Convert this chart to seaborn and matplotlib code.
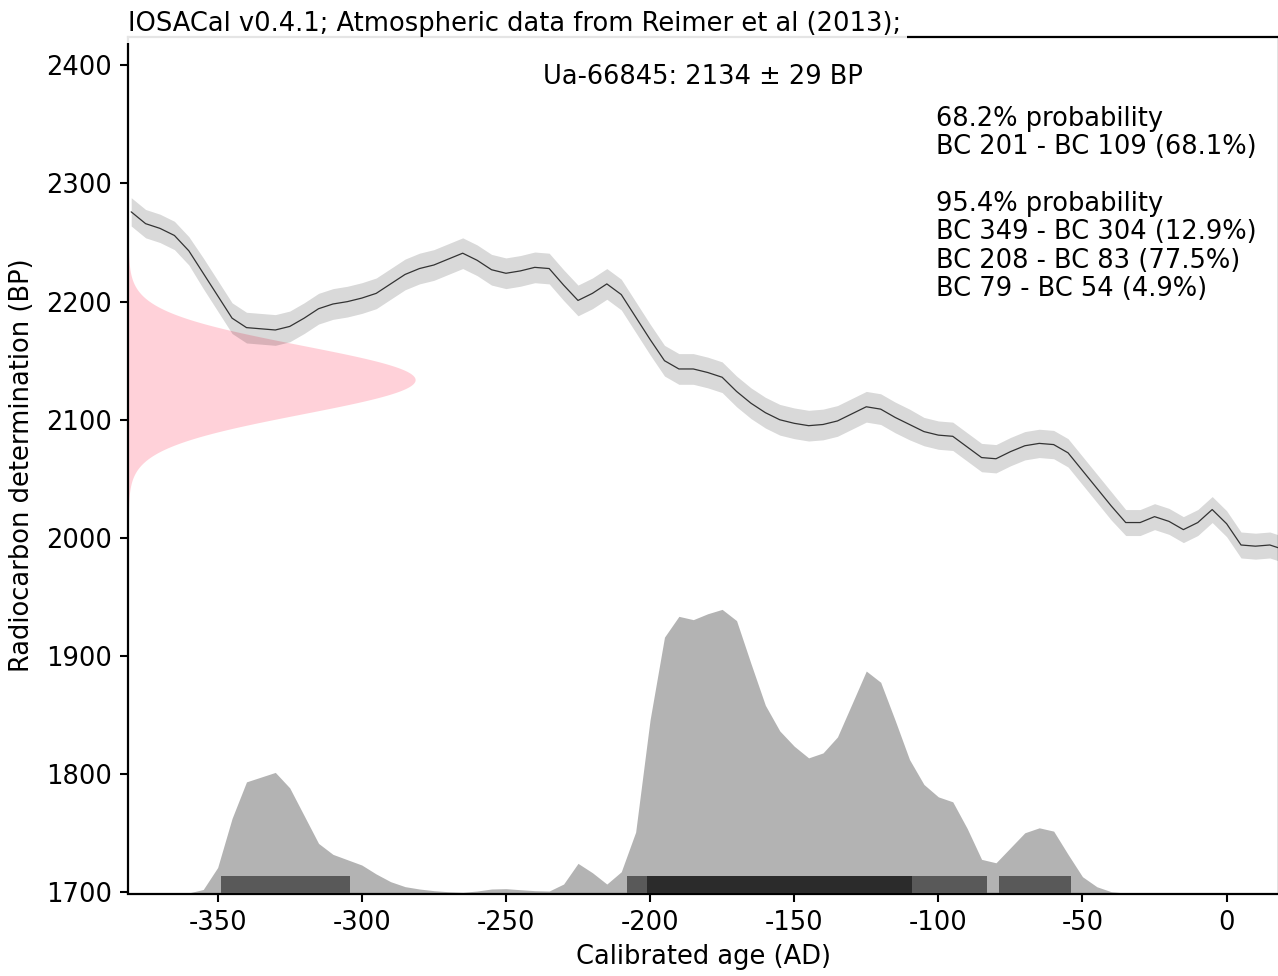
import numpy as np
import pandas as pd
import matplotlib
matplotlib.use("Agg")
import matplotlib.pyplot as plt
import seaborn as sns

# ---------------- data ----------------
sample_id = "Ua-66845"
f_m = 2134
sigma_m = 29
title = "IOSACal v0.4.1; Atmospheric data from Reimer et al (2013);"

cal_years = list(range(-380, 25, 5))
cal_bp = [2276, 2266, 2262, 2256, 2243, 2224, 2205, 2186, 2178, 2177,
          2176, 2179, 2186, 2194, 2198, 2200, 2203, 2207, 2215, 2223,
          2228, 2231, 2236, 2241, 2235, 2227, 2224, 2226, 2229, 2228,
          2214, 2201, 2207, 2215, 2206, 2187, 2168, 2150, 2143, 2143,
          2140, 2136, 2124, 2114, 2106, 2100, 2097, 2095, 2096, 2099,
          2105, 2111, 2109, 2102, 2096, 2090, 2087, 2086, 2077, 2068,
          2067, 2073, 2078, 2080, 2079, 2072, 2057, 2042, 2027, 2013,
          2013, 2018, 2014, 2007, 2013, 2024, 2012, 1994, 1993, 1994,
          1990]
cal_sigma = [12, 12, 12, 12, 12, 13, 13, 13, 13, 13,
             13, 13, 13, 13, 13, 13, 13, 13, 13, 13,
             13, 13, 13, 13, 13, 13, 13, 13, 13, 13,
             13, 13, 13, 13, 13, 13, 13, 13, 13, 13,
             13, 13, 13, 13, 13, 13, 13, 13, 13, 13,
             13, 13, 13, 13, 13, 12, 12, 12, 12, 12,
             12, 12, 12, 12, 12, 12, 12, 12, 12, 11,
             11, 11, 11, 11, 11, 11, 11, 11, 11, 11,
             11]

# calibrated probability (relative units, plotted above the axis base)
prob = [0, 0, 0, 0.1, 0.5, 3.4, 22, 63.6, 94.5, 98.5,
        102.5, 89.4, 65.9, 42.4, 33.1, 28.6, 24.1, 16.5, 10, 5.8,
        3.8, 2.4, 1.5, 1.0, 2.1, 3.8, 4.1, 3.2, 2.4, 2.1,
        8, 25.5, 17.6, 8, 18.4, 52, 147, 217, 234.6, 231.8,
        236.8, 240.5, 231, 194.6, 159.3, 137.6, 124.7, 114.8, 119, 132.5,
        160.3, 188.3, 178.8, 146.7, 113.4, 92.3, 81.8, 77.6, 55.1, 28.9,
        26, 38.7, 51.4, 55.6, 52.8, 33.1, 14.2, 5.7, 1.5, 0.4,
        0.1, 0, 0, 0, 0, 0, 0, 0, 0, 0,
        0]

int95_start = [-349, -208, -79]
int95_end = [-304, -83, -54]
int68_start = [-201]
int68_end = [-109]

prob_text = ("68.2% probability\nBC 201 - BC 109 (68.1%)\n\n"
             "95.4% probability\nBC 349 - BC 304 (12.9%)\n"
             "BC 208 - BC 83 (77.5%)\nBC 79 - BC 54 (4.9%)")

x_ticks = [-350, -300, -250, -200, -150, -100, -50, 0]
y_ticks = [1700, 1800, 1900, 2000, 2100, 2200, 2300, 2400]

# ---------------- plot ----------------
sns.set_style("ticks")
plt.rcParams["font.family"] = ["DejaVu Sans"]
plt.rcParams["axes.unicode_minus"] = False
plt.rcParams["text.color"] = "black"
plt.rcParams["axes.labelcolor"] = "black"
plt.rcParams["xtick.color"] = "black"
plt.rcParams["ytick.color"] = "black"
plt.rcParams["xtick.labelcolor"] = "black"
plt.rcParams["ytick.labelcolor"] = "black"
FS = 18.5

fig = plt.figure(figsize=(12.78, 9.76), dpi=100)
W, H = 1278.0, 976.0
left, right, top, bottom = 128.3, 1278.5, 37.0, 893.5
ax = fig.add_axes([left / W, (H - bottom) / H, (right - left) / W, (bottom - top) / H])

xmin, xmax = -381, 18
ymin, ymax = f_m - 15 * sigma_m, f_m + 10 * sigma_m

df = pd.DataFrame({"year": cal_years, "bp": cal_bp, "sigma": cal_sigma, "prob": prob})

# radiocarbon determination (normal distribution on the y axis)
yy = np.linspace(f_m - 4 * sigma_m, f_m + 4 * sigma_m, 400)
dens = np.exp(-0.5 * ((yy - f_m) / sigma_m) ** 2)
ax.fill_betweenx(yy, xmin, xmin + dens * 99.5, color="pink", alpha=0.72, lw=0, zorder=1)

# calibration curve
ax.fill_between(df["year"], df["bp"] - df["sigma"], df["bp"] + df["sigma"],
                color="k", alpha=0.15, lw=0, zorder=2)
sns.lineplot(data=df, x="year", y="bp", ax=ax, color="#333333", lw=0.9, zorder=3)

# calibrated distribution
ax.fill_between(df["year"], ymin, ymin + df["prob"], color="#b3b3b3", lw=0, zorder=2)
for s, e in zip(int95_start, int95_end):
    ax.broken_barh([(s, e - s)], (ymin, 15), facecolors="#595959",
                   edgecolors="none", linewidth=0, zorder=3)
for s, e in zip(int68_start, int68_end):
    ax.broken_barh([(s, e - s)], (ymin, 15), facecolors="#2b2b2b",
                   edgecolors="none", linewidth=0, zorder=4)

ax.set_xlim(xmin, xmax)
ax.set_ylim(ymin, ymax)
ax.set_xticks(x_ticks)
ax.set_yticks(y_ticks)
ax.set_xlabel("Calibrated age (AD)", fontsize=FS, labelpad=6, color="black")
ax.set_ylabel("Radiocarbon determination (BP)", fontsize=FS, labelpad=8, color="black")
ax.tick_params(axis="both", labelsize=FS, direction="out", length=6, width=1.5,
               color="k", labelcolor="k", pad=6)
for sp in ax.spines.values():
    sp.set_linewidth(1.6)
    sp.set_color("k")
    sp.set_visible(True)

bbox = dict(facecolor="white", alpha=0.9, lw=0)
ax.text(0.5, 0.953, "%s: %d \u00b1 %d BP" % (sample_id, f_m, sigma_m),
        ha="center", va="center", transform=ax.transAxes, fontsize=FS, bbox=bbox,
        zorder=6, color="black")
ax.text(0.702, 0.92, prob_text, ha="left", va="top", transform=ax.transAxes,
        fontsize=FS, bbox=bbox, zorder=6, linespacing=1.12, color="black")
ax.text(0.0, 1.0, title, ha="left", va="bottom", transform=ax.transAxes,
        fontsize=FS, bbox=bbox, zorder=6, color="black")

fig.savefig("out.png", dpi=100)
